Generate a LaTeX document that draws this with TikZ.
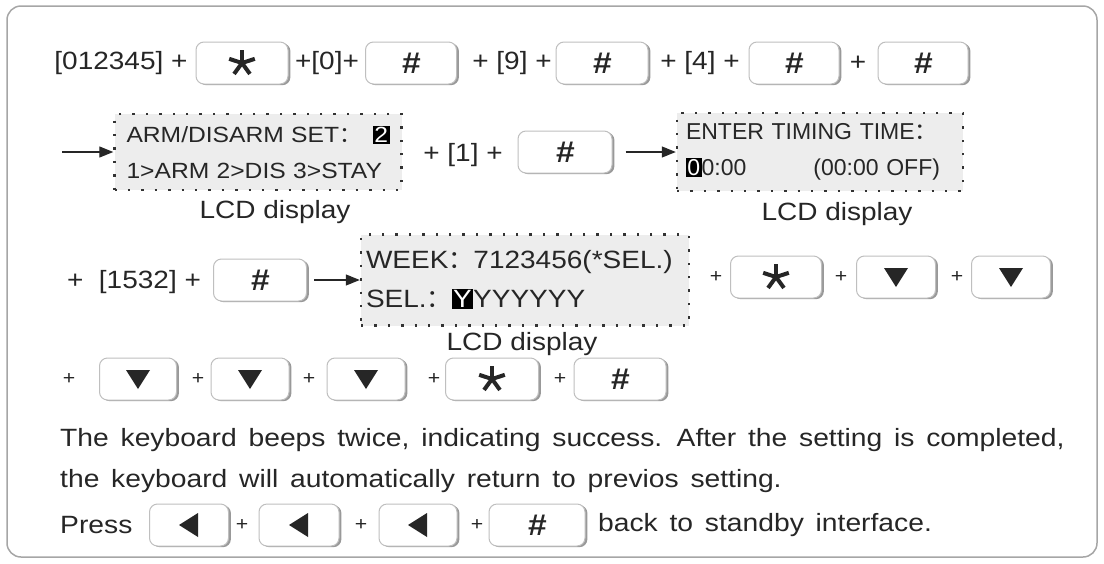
\documentclass[tikz,border=0pt]{standalone}
\usepackage{fontspec}
\setmainfont{Liberation Sans}[FakeStretch=1.12]
\newfontfamily\bodyfont{Liberation Sans}[FakeStretch=1.13, WordSpace=1.5]
\newfontfamily\lcdfont{Liberation Sans}
\newfontfamily\cjk{Noto Sans CJK SC}
\usetikzlibrary{arrows.meta,shadows}
\newcommand{\hlchar}[1]{{\setlength{\fboxsep}{1.4pt}\colorbox{black}{\textcolor{white}{#1}}}}
\newcommand{\fwcolon}{{\cjk ：}}

\begin{document}
\begin{tikzpicture}[x=1pt,y=-1pt,
  every node/.style={font=\fontsize{25}{28}\selectfont, inner sep=0pt, text=black!85},
  keybox/.style={draw=gray!50, fill=white, rounded corners=8pt, minimum height=42pt, line width=1pt,
    general shadow={fill=gray!80, shadow xshift=2.4pt, shadow yshift=-1.2pt}},
  hashkey/.style={keybox, font=\fontsize{30}{30}\selectfont\bfseries\itshape},
  starkey/.style={keybox, path picture={\foreach \a in {-90,-18,54,126,198}
    \draw[line width=4pt, black!85, shift={(path picture bounding box.center)}] (0,0) -- (\a:13.5);}},
  downkey/.style={keybox, path picture={\fill[sharp corners, black!85, shift={(path picture bounding box.center)}]
    (-12,-9) -- (12,-9) -- (0,10) -- cycle;}},
  leftkey/.style={keybox, path picture={\fill[sharp corners, black!85, shift={(path picture bounding box.center)}]
    (-10,0) -- (9,-12) -- (9,12) -- cycle;}},
  lcd/.style={fill=gray!14, draw=black!80, line width=2.4pt, dash pattern=on 2.4pt off 11pt,
    align=left, inner xsep=12pt, font=\fontsize{22}{36}\selectfont},
  flow/.style={-{Triangle[length=14pt,width=11pt]}, line width=1.2pt, black!85},
  plus/.style={font=\fontsize{19}{19}\selectfont},
  body/.style={anchor=west, font=\bodyfont\fontsize{25}{25}\selectfont}
]
\useasboundingbox (0,0) rectangle (1104,563);
\draw[gray!70, line width=1.5pt, rounded corners=14pt] (7,6) rectangle (1097,557);

\node (r1a) at (121,63) {[012345] +};
\node[starkey, minimum width=92pt] (k1) at (242,63) {};
\node (r1b) at (327,63) {+[0]+};
\node[hashkey, minimum width=91pt] (k2) at (411,63) {\#};
\node (r1c) at (512,63) {+ [9] +};
\node[hashkey, minimum width=92pt] (k3) at (602,63) {\#};
\node (r1d) at (700,63) {+ [4] +};
\node[hashkey, minimum width=90pt] (k4) at (794,63) {\#};
\node (r1e) at (858,63) {+};
\node[hashkey, minimum width=90pt] (k5) at (923,63) {\#};

\coordinate (s2) at (62,152);
\node[lcd, text width=263pt, minimum height=76pt] (lcd1) at (258,152)
  {ARM/DISARM SET\fwcolon\hfill\hlchar{2}\\1>ARM 2>DIS 3>STAY};
\node (cap1) at (275,212) {LCD display};
\node (r2a) at (463,155) {+ [1] +};
\node[hashkey, minimum width=94pt] (k6) at (565,152) {\#};
\node[lcd, text width=268pt, inner xsep=9pt, minimum height=78pt,
  font=\lcdfont\fontsize{23}{36}\selectfont] (lcd2) at (820,152)
  {ENTER TIMING TIME\fwcolon\\\hlchar{0}0:00\hfill(00:00 OFF)\hspace*{14pt}};
\node (cap2) at (837,214) {LCD display};
\draw[flow] (s2) -- (lcd1);
\draw[flow, shorten <=13pt] (k6) -- (lcd2);

\node (r3a) at (134,282) {+ \ [1532] +};
\node[hashkey, minimum width=93pt] (k7) at (260,280) {\#};
\node[lcd, text width=318pt, inner xsep=5pt, minimum height=91pt,
  font=\fontsize{25}{39}\selectfont] (lcd3) at (525,280)
  {WEEK\fwcolon 7123456(*SEL.)\\SEL.\fwcolon\hlchar{Y}YYYYYY};
\node (cap3) at (522,344) {LCD display};
\draw[flow, shorten <=7pt] (k7) -- (lcd3);
\node[plus] (p31) at (716,277) {+};
\node[starkey, minimum width=91pt] (k8) at (776,277) {};
\node[plus] (p32) at (841,277) {+};
\node[downkey, minimum width=79pt] (k9) at (896,277) {};
\node[plus] (p33) at (957,277) {+};
\node[downkey, minimum width=79pt] (k10) at (1011,277) {};

\node[plus] (p40) at (69,379) {+};
\node[downkey, minimum width=77pt] (k11) at (138,379) {};
\node[plus] (p41) at (198,379) {+};
\node[downkey, minimum width=78pt] (k12) at (250,379) {};
\node[plus] (p42) at (309,379) {+};
\node[downkey, minimum width=78pt] (k13) at (366,379) {};
\node[plus] (p43) at (434,379) {+};
\node[starkey, minimum width=93pt] (k14) at (492,379) {};
\node[plus] (p44) at (560,379) {+};
\node[hashkey, minimum width=92pt] (k15) at (620,379) {\#};

\node[body] (m1) at (60,440) {The keyboard beeps twice, indicating success. After the setting is completed,};
\node[body] (m2) at (60,481) {the keyboard will automatically return to previos setting.};
\node[body] (m3) at (60,525) {Press};
\node[leftkey, minimum width=79pt] (k16) at (189,525) {};
\node[plus] (p51) at (242,525) {+};
\node[leftkey, minimum width=80pt] (k17) at (299,525) {};
\node[plus] (p52) at (361,525) {+};
\node[leftkey, minimum width=78pt] (k18) at (418,525) {};
\node[plus] (p53) at (477,525) {+};
\node[hashkey, minimum width=96pt] (k19) at (537,525) {\#};
\node[body] (m4) at (598,525) {back to standby interface.};
\end{tikzpicture}
\end{document}
